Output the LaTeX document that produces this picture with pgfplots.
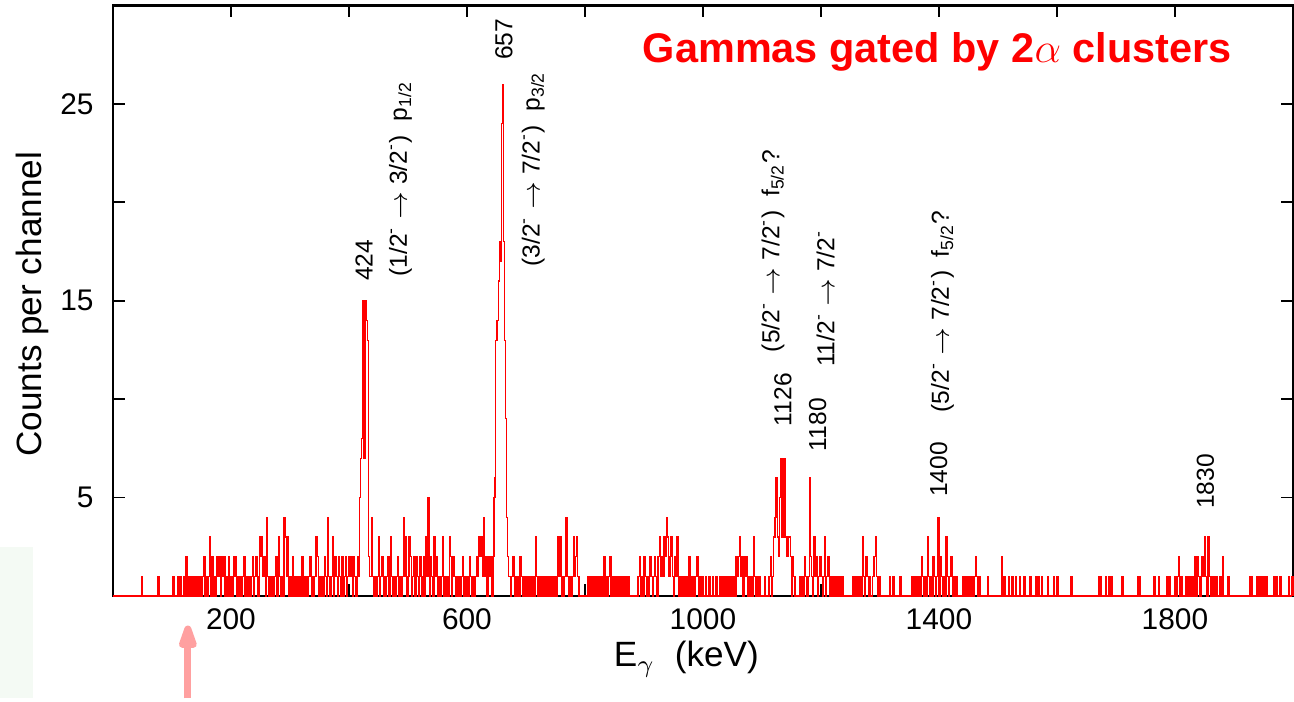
\documentclass[border=0pt]{standalone}
\usepackage{pgfplots}
\pgfplotsset{compat=1.18}
\usetikzlibrary{arrows.meta}
\usepackage{fontspec}
\setmainfont{Liberation Sans}
\definecolor{spec}{RGB}{255,0,0}
\definecolor{arrowpink}{RGB}{255,160,160}
\definecolor{mint}{RGB}{244,250,244}
\newcommand{\ann}{\fontsize{7}{8}\selectfont}
\begin{document}
\begin{tikzpicture}
\begin{axis}[
  width=11.81cm, height=5.91cm, scale only axis,
  xmin=0, xmax=2000, ymin=0, ymax=30,
  xtick={200,400,...,1800}, xticklabels={200,,600,,1000,,1400,,1800},
  ytick={5,10,...,25}, yticklabels={5,,15,,25},
  tick align=inside, major tick length=0.12cm,
  tick style={black, line width=0.5pt},
  axis line style={black, line width=0.6pt},
  tick label style={font=\fontsize{8.5}{10}\selectfont},
  yticklabel style={xshift=-0.07cm},
  /pgf/number format/assume math mode=true,
  label style={font=\fontsize{11.8}{13}\selectfont},
  xlabel={E$_\gamma$~~(keV)},
  ylabel={Counts per channel},
  every axis x label/.style={at={(axis description cs:0.486,-0.12)}, anchor=base},
  every axis y label/.style={at={(axis description cs:-0.0686,0.494)}, rotate=90, anchor=center},
  clip=false,
]
% faint slide leftovers
\fill[mint] (axis cs:-191.4,-5.2) rectangle (axis cs:-135.5,2.5);
\draw[arrowpink, line width=2pt, -{Triangle[width=5.2pt,length=9pt,round]}] (axis cs:127,-5.2) -- (axis cs:127,-1.5);
\path (axis cs:0,30.28) circle (0pt);

\addplot[const plot, spec, line width=0.35pt] coordinates {
(0,0) (48,1) (50,0) (76,1) (78,0) (102,1) (104,0)
(110,1) (112,0) (114,1) (116,0) (120,1) (122,0) (124,2) (126,0) (128,1) (130,0) (132,1) (134,0) (136,1) (138,0) (140,1) (142,0) (144,1) (146,0) (148,1) (150,0) (152,1) (154,2) (156,0) (158,1) (160,0) (162,1) (164,3) (166,0) (168,2) (170,0) (172,1) (174,0) (176,2) (178,1) (180,2) (182,0) (184,2) (186,1) (188,2) (190,0) (192,1) (194,0) (196,2) (198,0) (200,1) (202,0) (204,2) (206,1) (208,2) (210,0) (212,1) (214,0) (216,1) (218,0) (220,1) (222,2) (224,0) (226,1) (228,0) (230,1) (232,0) (234,1) (236,2) (238,0) (240,1) (242,2) (244,1) (246,0) (248,3) (250,2) (252,3) (254,1) (256,2) (258,0) (260,4) (262,1) (264,0) (266,1) (268,0) (270,1) (272,0) (274,1) (276,2) (278,0) (280,3) (282,1) (284,0) (286,1) (288,0) (290,4) (292,3) (294,1) (296,3) (298,0) (300,1) (302,0) (304,2) (306,0) (308,1) (310,0) (312,1) (314,0) (316,1) (318,0) (320,2) (322,0) (324,1) (326,0) (328,1) (330,0) (332,1) (334,2) (336,0) (338,1) (340,0) (342,1) (344,3) (346,2) (348,0) (350,1) (352,0) (354,1) (356,0) (358,2) (360,1) (362,0) (364,4) (366,1) (368,0) (370,1) (372,3) (374,0) (376,2) (378,1) (380,0) (382,2) (384,1) (386,0) (388,2) (390,0) (392,1) (394,2) (396,0) (398,1) (400,2) (402,1) (404,2) (406,0) (408,2) (410,1) (412,0) (414,2) (416,1)
(418,5) (419.5,7) (421,8) (422.5,11) (424,15) (425.5,7) (428,15) (429.5,14) (431,13) (433,2) (435,1)
(438,4) (440,1) (442,0) (444,1) (446,0) (448,1) (450,3) (452,0) (454,1) (456,2) (458,0) (460,1) (462,0) (464,1) (466,2) (468,0) (470,3) (472,1) (474,0) (476,1) (478,0) (480,1) (482,2) (484,0) (486,1) (488,0) (490,1) (492,4) (494,1) (496,3) (498,0) (500,1) (502,3) (504,2) (506,0)
(508,1) (510,2) (512,0) (514,2) (516,1) (518,0) (520,2) (522,1) (524,0) (526,2) (528,0) (530,3) (532,1) (534,5) (536,0) (538,2) (540,1) (542,0) (544,3) (546,1) (548,2) (550,0) (552,1) (554,0) (556,1) (558,3) (560,0) (562,1) (564,0) (566,1) (568,0) (570,3) (572,2) (574,0) (576,2) (578,1) (580,0) (582,1) (584,0) (586,1) (588,0) (590,1) (592,2) (594,0) (596,1) (598,0) (600,1) (602,0) (604,2) (606,1) (608,0) (610,1) (612,0) (614,1) (616,2) (618,1) (620,3) (622,2) (624,3) (626,1) (628,4) (630,1) (632,2) (634,0) (636,2) (638,1) (640,2) (642,0) (644,2)
(646,5) (647.5,6) (649,13) (651,14) (653,16) (655,18) (657,17) (659,24) (661,26) (662.5,18) (664,13) (665,11) (666,9) (667,4) (669,2) (671,1)
(674,0) (676,1) (678,2) (680,0) (682,1) (684,0) (686,1) (688,0) (690,2) (692,1) (694,0) (696,1) (698,0) (700,1) (702,0) (704,1) (706,0) (708,1) (710,0) (712,1) (714,0) (716,3) (718,1) (720,0) (722,1) (724,0) (726,1) (728,0) (730,1) (732,0) (734,1) (736,0) (738,1) (740,0) (742,1) (744,0) (746,1) (748,0) (750,1) (752,0) (754,3) (756,1) (758,3) (760,0) (762,1) (764,0) (766,1) (768,4) (770,1) (772,0) (774,1) (776,0) (778,1) (780,3) (782,1) (784,2) (786,3) (788,1) (790,0)
(804,1) (806,0) (808,1) (810,0) (812,1) (814,0) (816,1) (818,0) (820,1) (822,0) (824,1) (826,0) (828,1) (830,0) (832,2) (834,0) (836,1) (838,0) (840,1) (842,2) (844,0) (846,1) (848,0) (850,1) (852,0) (854,1) (856,0) (858,1) (860,0) (862,1) (864,0) (866,1) (868,0) (870,1) (872,0) (874,1) (876,0)
(890,1) (892,2) (894,0) (896,1) (898,0) (900,2) (902,1) (904,0) (906,1) (908,0) (910,2) (912,1) (914,0) (916,1) (918,2) (920,1) (922,0) (924,2) (926,3) (928,1) (930,2) (932,1) (934,3) (936,2) (938,4) (940,3) (942,1) (944,2) (946,3) (948,1) (950,0) (952,2) (954,1) (956,3) (958,0) (960,1) (962,0) (964,1) (966,0) (968,1) (970,0) (972,1) (974,0) (976,2) (978,0) (980,1) (982,0) (984,1) (986,0) (988,1) (990,2) (992,0) (994,1) (996,0) (998,1) (1000,0)
(1004,1) (1006,0) (1010,1) (1012,0) (1016,1) (1018,0) (1022,1) (1024,0) (1028,1) (1030,0) (1032,1) (1034,0) (1036,1) (1038,0) (1040,1) (1042,0) (1044,1) (1046,0) (1048,1) (1050,0) (1052,1) (1054,0) (1056,2) (1058,1) (1060,2) (1062,3) (1064,1) (1066,2) (1068,0) (1070,2) (1072,1) (1074,2) (1076,0) (1078,1) (1080,0) (1082,1) (1084,0) (1086,3) (1088,1) (1090,0) (1092,1) (1094,0) (1096,1) (1098,0) (1104,1) (1106,0) (1112,1) (1114,2) (1116,0) (1118,1) (1120,3) (1122,4) (1124,6) (1126,3) (1128,2) (1130,5) (1132,7) (1134,3) (1136,7) (1137,3) (1138,7) (1140,3) (1142,2) (1144,3) (1146,3) (1148,2) (1150,0) (1152,2) (1154,1) (1156,0)
(1164,1) (1166,0) (1168,1) (1170,0) (1172,2) (1174,1) (1176,0) (1178,1) (1180,6) (1182,2) (1184,1) (1186,0) (1188,3) (1190,1) (1192,2) (1194,0) (1196,1) (1198,2) (1200,1) (1202,0) (1204,1) (1206,3) (1208,0) (1210,1) (1212,2) (1214,0) (1216,1) (1218,0) (1220,1) (1222,0) (1224,1) (1226,0) (1228,1) (1230,0) (1232,1) (1234,0) (1236,1) (1238,0)
(1254,1) (1256,0) (1258,1) (1260,0) (1262,1) (1264,0) (1266,1) (1268,0) (1270,3) (1272,1) (1274,0) (1276,2) (1278,1) (1280,0) (1282,1) (1284,0) (1288,1) (1290,2) (1292,3) (1294,1) (1296,0) (1298,1) (1300,0) (1316,1) (1318,0) (1322,1) (1324,0) (1334,1) (1336,0)
(1354,1) (1356,0) (1358,1) (1360,0) (1362,1) (1364,0) (1366,1) (1368,0) (1370,2) (1372,1) (1374,0) (1376,1) (1378,0) (1380,3) (1382,1) (1384,0) (1386,1) (1388,0) (1390,2) (1392,1) (1394,0) (1396,1) (1398,4) (1400,0) (1402,2) (1404,1) (1406,0) (1408,1) (1410,0) (1412,3) (1414,1) (1416,0) (1418,1) (1420,2) (1422,1) (1424,0) (1426,1) (1428,0) (1430,1) (1432,0) (1440,1) (1442,0) (1444,1) (1446,0) (1448,1) (1450,0) (1452,1) (1454,0) (1456,1) (1458,0) (1460,1) (1462,2) (1464,1) (1466,0) (1468,1) (1470,0) (1482,1) (1484,0)
(1506,2) (1508,0) (1510,1) (1512,0) (1518,1) (1520,0) (1524,1) (1526,0) (1530,1) (1532,0) (1536,1) (1538,0) (1544,1) (1546,0) (1554,1) (1556,0) (1564,1) (1566,0) (1568,1) (1570,0) (1574,1) (1576,0) (1584,1) (1586,0) (1594,1) (1596,0) (1600,1) (1602,0) (1624,1) (1626,0) (1670,1) (1672,0) (1674,1) (1676,0) (1682,1) (1684,0) (1688,1) (1690,0) (1692,1) (1694,0) (1710,1) (1712,0) (1736,1) (1738,0) (1740,1) (1742,0) (1764,1) (1766,0) (1772,1) (1774,0) (1786,1) (1788,0) (1790,1) (1792,0) (1800,1) (1802,0) (1804,1) (1806,2) (1808,0) (1810,1) (1812,0) (1818,1) (1820,0) (1822,1) (1824,0) (1826,1) (1828,0) (1830,1) (1832,0) (1834,2) (1836,0) (1838,2) (1840,1) (1842,0) (1844,1) (1846,2) (1848,1) (1850,3) (1852,1) (1854,0) (1856,3) (1858,1) (1860,0) (1862,1) (1864,0) (1866,1) (1868,0) (1870,1) (1872,0) (1876,1) (1878,0) (1880,2) (1882,0) (1890,1) (1892,0) (1926,1) (1928,0) (1930,1) (1932,0) (1938,1) (1940,0) (1942,1) (1944,0) (1946,1) (1948,0) (1950,1) (1952,0) (1954,1) (1956,0) (1968,1) (1970,0) (1972,1) (1974,0) (1978,1) (1980,0) (1992,1) (1994,0) (1998,1) (2000,0)
};

% peak annotations
\node[rotate=90, anchor=base west, inner sep=0, font=\ann] at (axis cs:440,15.97) {424};
\node[rotate=90, anchor=base west, inner sep=0, font=\ann] at (axis cs:498,16.2) {(1/2\textsuperscript{-} $\rightarrow$ 3/2\textsuperscript{-})~~p\textsubscript{1/2}};
\node[rotate=90, anchor=base west, inner sep=0, font=\ann] at (axis cs:677,27.2) {657};
\node[rotate=90, anchor=base west, inner sep=0, font=\ann] at (axis cs:723,16.7) {(3/2\textsuperscript{-} $\rightarrow$ 7/2\textsuperscript{-})~~p\textsubscript{3/2}};
\node[rotate=90, anchor=base west, inner sep=0, font=\ann] at (axis cs:1129.5,12.36) {(5/2\textsuperscript{-} $\rightarrow$ 7/2\textsuperscript{-})~~f\textsubscript{5/2}?};
\node[rotate=90, anchor=base west, inner sep=0, font=\ann] at (axis cs:1150,8.6) {1126};
\node[rotate=90, anchor=base west, inner sep=0, font=\ann] at (axis cs:1209,7.33) {1180};
\node[rotate=90, anchor=base west, inner sep=0, font=\ann] at (axis cs:1222.7,11.6) {11/2\textsuperscript{-} $\rightarrow$ 7/2\textsuperscript{-}};
\node[rotate=90, anchor=base west, inner sep=0, font=\ann] at (axis cs:1414,5.0) {1400};
\node[rotate=90, anchor=base west, inner sep=0, font=\ann] at (axis cs:1417,9.3) {(5/2\textsuperscript{-} $\rightarrow$ 7/2\textsuperscript{-})~~f\textsubscript{5/2}?};
\node[rotate=90, anchor=base west, inner sep=0, font=\ann] at (axis cs:1866,4.39) {1830};

\node[anchor=base east, inner sep=0, text=spec, font=\fontsize{11.8}{13}\selectfont\bfseries] at (axis cs:1897,27.1) {Gammas gated by 2$\alpha$ clusters};
\end{axis}
\end{tikzpicture}
\end{document}
